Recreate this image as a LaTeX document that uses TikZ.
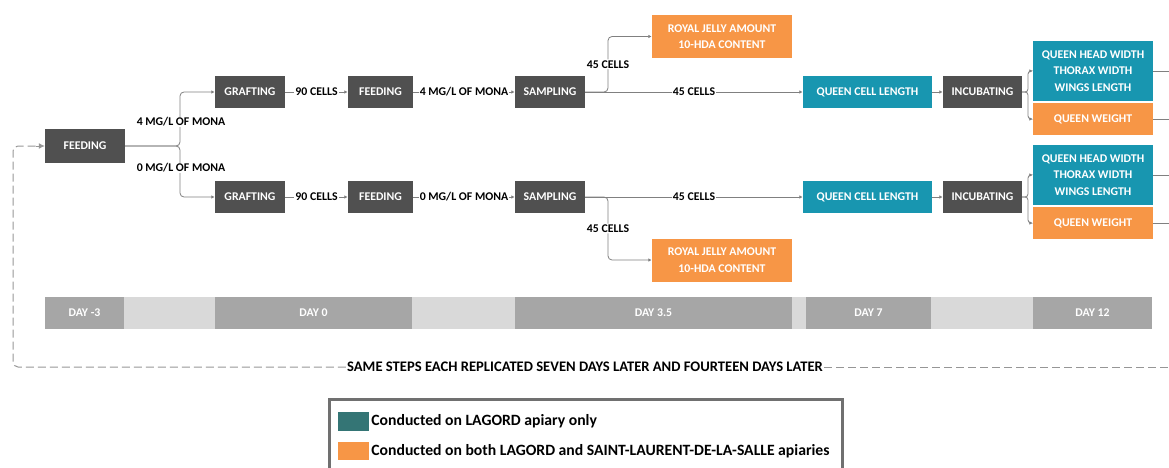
\documentclass[tikz,border=0pt]{standalone}
\usepackage{fontspec}
\setmainfont{Carlito}
\usetikzlibrary{arrows.meta}
\definecolor{procgray}{RGB}{80,80,80}
\definecolor{measteal}{RGB}{24,150,176}
\definecolor{measorange}{RGB}{247,150,70}
\definecolor{legteal}{RGB}{52,117,117}
\definecolor{daydark}{RGB}{166,166,166}
\definecolor{daylight}{RGB}{217,217,217}
\definecolor{linkgray}{RGB}{128,128,128}
\definecolor{loopgray}{RGB}{150,150,150}
\definecolor{framegray}{RGB}{112,112,112}
\begin{document}
\begin{tikzpicture}[x=1pt, y=-1pt,
    boxtext/.style = {font=\bfseries\fontsize{11.8}{13.5}\selectfont, text=white, inner sep=0pt, align=center},
    proc/.style = {boxtext, fill=procgray, minimum height=32pt},
    meas/.style = {boxtext, fill=measteal, minimum height=32pt},
    rj/.style = {boxtext, fill=measorange, minimum width=140pt, minimum height=43pt},
    qhw/.style = {boxtext, fill=measteal, minimum width=120pt, minimum height=60pt},
    qw/.style = {boxtext, fill=measorange, minimum width=120pt, minimum height=32pt},
    daybar/.style = {boxtext, fill=daydark, minimum height=32pt},
    lbl/.style = {font=\bfseries\fontsize{11.8}{13.5}\selectfont, fill=white, inner sep=1pt},
    link/.style = {draw=linkgray, line width=0.8pt, -{Latex[length=3.5pt, width=3.5pt]}},
    plain/.style = {draw=linkgray, line width=0.8pt},
    loopline/.style = {draw=loopgray, line width=1pt, dash pattern=on 8pt off 4pt},
    legtext/.style = {anchor=west, font=\bfseries\fontsize{15.7}{17}\selectfont, inner sep=2pt}]
    \useasboundingbox (0,0) rectangle (1169,468);

    \node[proc, minimum width=80pt, minimum height=33pt] (feed0) at (85,146) {FEEDING};
    \coordinate (split) at (180,146);

    \node[proc, minimum width=70pt] (graftA) at (250,92) {GRAFTING};
    \node[proc, minimum width=65pt] (feedA) at (380.5,92) {FEEDING};
    \node[proc, minimum width=70pt] (sampA) at (550,92) {SAMPLING};
    \coordinate (forkA) at (608,92);
    \node[rj] (rjA) at (722,36.5) {ROYAL JELLY AMOUNT\\[3pt]10-HDA CONTENT};
    \node[meas, minimum width=129pt] (qclA) at (867.5,92) {QUEEN CELL LENGTH};
    \node[proc, minimum width=79pt] (incA) at (982.5,92) {INCUBATING};
    \coordinate (incforkA) at (1028,92);
    \node[qhw] (qhwA) at (1093,71) {QUEEN HEAD WIDTH\\[3pt]THORAX WIDTH\\[3pt]WINGS LENGTH};
    \node[qw] (qwA) at (1093,119) {QUEEN WEIGHT};
    \coordinate (outA1) at (1169,71);
    \coordinate (outA2) at (1169,119);

    \node[proc, minimum width=70pt] (graftB) at (250,197) {GRAFTING};
    \node[proc, minimum width=65pt] (feedB) at (380.5,197) {FEEDING};
    \node[proc, minimum width=70pt] (sampB) at (550,197) {SAMPLING};
    \coordinate (forkB) at (608,197);
    \node[rj] (rjB) at (722,260) {ROYAL JELLY AMOUNT\\[3pt]10-HDA CONTENT};
    \node[meas, minimum width=129pt] (qclB) at (867.5,197) {QUEEN CELL LENGTH};
    \node[proc, minimum width=79pt] (incB) at (982.5,197) {INCUBATING};
    \coordinate (incforkB) at (1028,197);
    \node[qhw] (qhwB) at (1093,175) {QUEEN HEAD WIDTH\\[3pt]THORAX WIDTH\\[3pt]WINGS LENGTH};
    \node[qw] (qwB) at (1093,223) {QUEEN WEIGHT};
    \coordinate (outB1) at (1169,175);
    \coordinate (outB2) at (1169,223);

    \draw[link, rounded corners=4pt] (feed0.east) -- (split) |- (graftA.west);
    \draw[link, rounded corners=4pt] (feed0.east) -- (split) |- (graftB.west);
    \node[lbl] at (181,122) {4 MG/L OF MONA};
    \node[lbl] at (181,168) {0 MG/L OF MONA};

    \foreach \row/\dose in {A/4, B/0} {
        \draw[link] (graft\row) -- node[lbl] {90 CELLS} (feed\row);
        \draw[link] (feed\row) -- node[lbl] {\dose{} MG/L OF MONA} (samp\row);
        \draw[link, rounded corners=4pt] (samp\row.east) -- (fork\row) |- node[lbl, pos=0.25] {45 CELLS} (rj\row.west);
        \draw[link] (samp\row) -- node[lbl] {45 CELLS} (qcl\row);
        \draw[link] (qcl\row) -- (inc\row);
        \draw[link, rounded corners=3pt] (inc\row.east) -- (incfork\row) |- (qhw\row.west);
        \draw[link, rounded corners=3pt] (inc\row.east) -- (incfork\row) |- (qw\row.west);
        \draw[plain] (qhw\row.east) -- (out\row1);
        \draw[plain] (qw\row.east) -- (out\row2);
    }

    \fill[daylight] (45,297) rectangle (1152,329);
    \node[daybar, minimum width=79pt] (dayA) at (84.5,313) {DAY -3};
    \node[daybar, minimum width=197pt] (dayB) at (313.5,313) {DAY 0};
    \node[daybar, minimum width=277pt] (dayC) at (653.5,313) {DAY 3.5};
    \node[daybar, minimum width=125pt] (dayD) at (868.5,313) {DAY 7};
    \node[daybar, minimum width=119pt] (dayE) at (1092.5,313) {DAY 12};

    \node[font=\bfseries\fontsize{14.6}{16}\selectfont, inner sep=1pt] (note) at (585,367) {SAME STEPS EACH REPLICATED SEVEN DAYS LATER AND FOURTEEN DAYS LATER};
    \coordinate (looptop) at (13,146);
    \coordinate (loopend) at (1169,367);
    \draw[loopline, rounded corners=5pt] (note.west) -| (looptop) -- ([xshift=-8pt]feed0.west);
    \draw[draw=loopgray, line width=1pt, -{Latex[length=6pt, width=6pt]}] ([xshift=-9pt]feed0.west) -- (feed0.west);
    \draw[loopline] (note.east) -- (loopend);

    \draw[framegray, line width=3pt] (329,399) rectangle (842,480);
    \node[fill=legteal, minimum width=31pt, minimum height=19pt, inner sep=0pt] (legA) at (353.5,421.5) {};
    \node[fill=measorange, minimum width=31pt, minimum height=18pt, inner sep=0pt] (legB) at (353.5,451) {};
    \node[legtext] at (legA.east) {Conducted on LAGORD apiary only};
    \node[legtext] at (legB.east) {Conducted on both LAGORD and SAINT-LAURENT-DE-LA-SALLE apiaries};
\end{tikzpicture}
\end{document}
